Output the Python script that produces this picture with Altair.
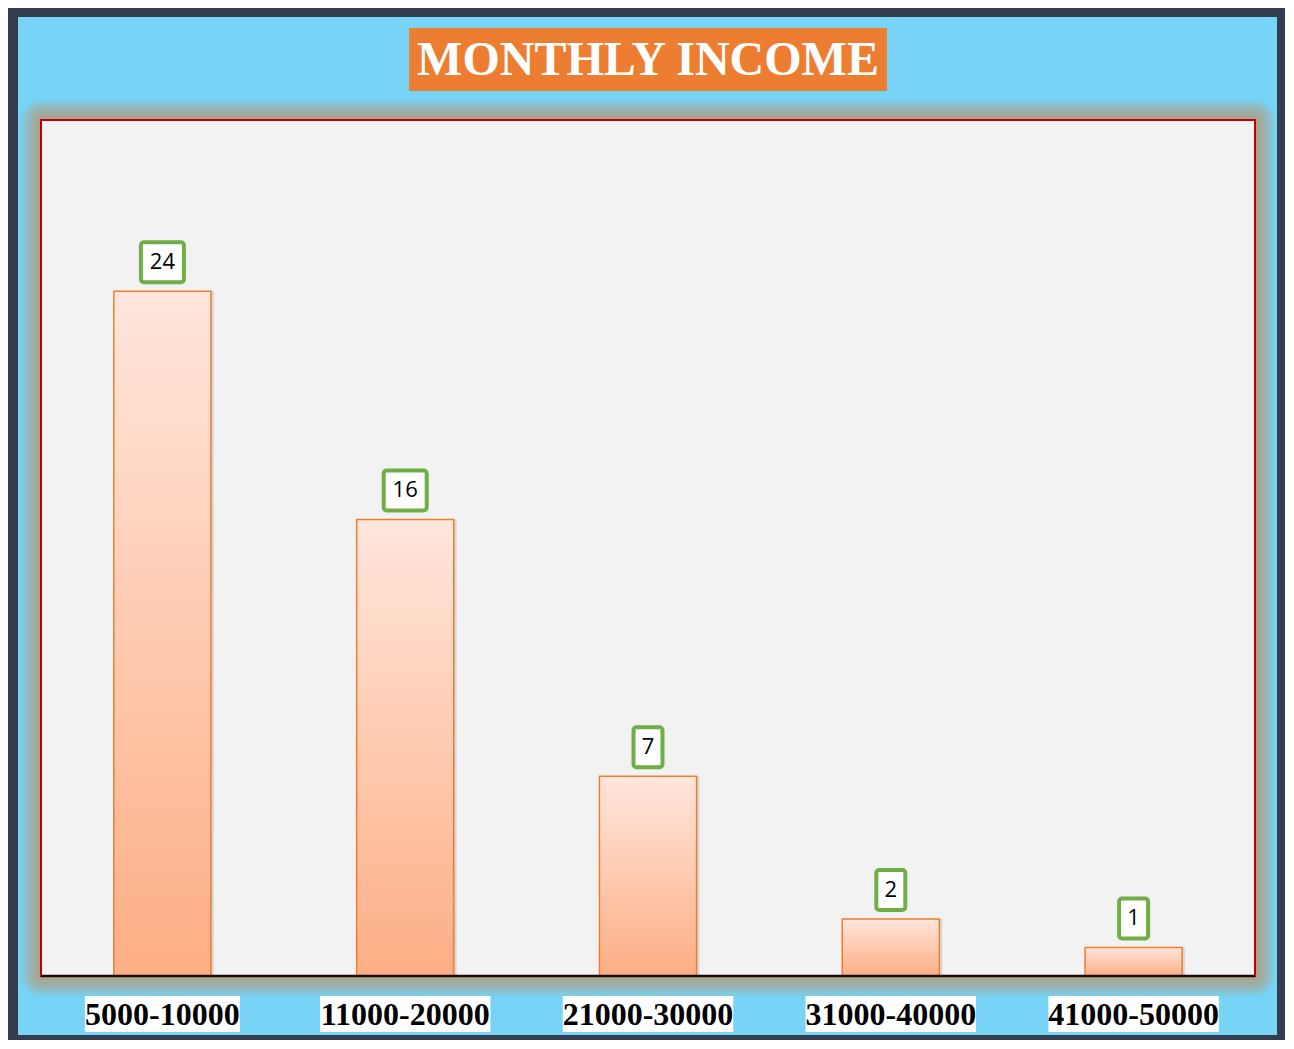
import altair as alt
import pandas as pd

categories = ["5000-10000", "11000-20000", "21000-30000", "31000-40000", "41000-50000"]
counts = [24, 16, 7, 2, 1]
title_text = "MONTHLY INCOME"

df = pd.DataFrame({"range": categories, "count": counts})

W, H = 1214, 856

xenc = alt.X("range:N", sort=categories,
             scale=alt.Scale(paddingInner=0.6, paddingOuter=0.3), axis=None)
yscale = alt.Scale(domain=[0, 30], nice=False, zero=True)


def deco():
    return alt.Chart(alt.Data(values=[{"k": 1}]))


bg = deco().mark_rect(color="#77d4f6").encode(
    x=alt.value(-23), x2=alt.value(1236), y=alt.value(-103), y2=alt.value(915))

glow_layers = []
for d in range(20, 0, -2):
    glow_layers.append(
        deco().mark_rect(color="#d9803a", opacity=0.08, cornerRadius=d).encode(
            x=alt.value(-d), x2=alt.value(W + d), y=alt.value(-d), y2=alt.value(H + d)))

plot_rect = deco().mark_rect(fill="#f2f2f2", stroke="#c00000", strokeWidth=2).encode(
    x=alt.value(0), x2=alt.value(W), y=alt.value(0), y2=alt.value(H))

shadow = alt.Chart(df).mark_bar(color="#000000", opacity=0.10, xOffset=3).encode(
    x=xenc, y=alt.Y("count:Q", scale=yscale, axis=None))

bars = alt.Chart(df).mark_bar(
    fill=alt.Gradient(gradient="linear",
                      stops=[alt.GradientStop(color="#ffe6dc", offset=0),
                             alt.GradientStop(color="#fdae84", offset=1)],
                      x1=0, x2=0, y1=0, y2=1),
    stroke="#ed7d31", strokeWidth=1.5).encode(
    x=xenc, y=alt.Y("count:Q", scale=yscale, axis=None))

axis_line = deco().mark_rule(color="#1a0a0a", strokeWidth=2.5).encode(
    x=alt.value(0), x2=alt.value(W), y=alt.value(H))

label_boxes = alt.Chart(df).transform_calculate(
    b0="datum.count + 0.315", b1="datum.count + 1.717",
    bw="datum.count >= 10 ? 43 : 29").mark_bar(
    fill="white", stroke="#70ad47", strokeWidth=4, cornerRadius=3).encode(
    x=xenc, y=alt.Y("b0:Q", scale=yscale, axis=None), y2="b1:Q",
    size=alt.Size("bw:Q", scale=None, legend=None))

label_text = alt.Chart(df).mark_text(
    font="Open Sans", fontSize=22, color="black", baseline="middle", dy=-29).encode(
    x=xenc, y=alt.Y("count:Q", scale=yscale, axis=None), text="count:Q")

cat_boxes = alt.Chart(df).transform_calculate(
    lw="length(datum.range) * 15.5").mark_bar(fill="white").encode(
    x=xenc, y=alt.value(876), y2=alt.value(912),
    size=alt.Size("lw:Q", scale=None, legend=None))

cat_text = alt.Chart(df).mark_text(
    font="Liberation Serif", fontWeight="bold", fontSize=32, color="black",
    baseline="alphabetic").encode(x=xenc, y=alt.value(905), text="range:N")

title_box = deco().mark_rect(color="#ed7d31").encode(
    x=alt.value(368), x2=alt.value(846), y=alt.value(-92), y2=alt.value(-29))

title = alt.Chart(alt.Data(values=[{"t": title_text}])).mark_text(
    font="Liberation Serif", fontWeight="bold", fontSize=48, color="white",
    baseline="alphabetic", align="center").encode(
    x=alt.value(W / 2), y=alt.value(-45), text="t:N")

chart = alt.layer(
    bg, *glow_layers, plot_rect, shadow, bars, axis_line,
    label_boxes, label_text, cat_boxes, cat_text, title_box, title
).properties(
    width=W, height=H, background="#333d4f",
    padding={"left": 33, "top": 112, "right": 30, "bottom": 64},
    autosize=alt.AutoSizeParams(type="none"),
).configure_view(strokeWidth=0)

chart.save("out.html", embed_options={"renderer": "svg", "actions": False})
